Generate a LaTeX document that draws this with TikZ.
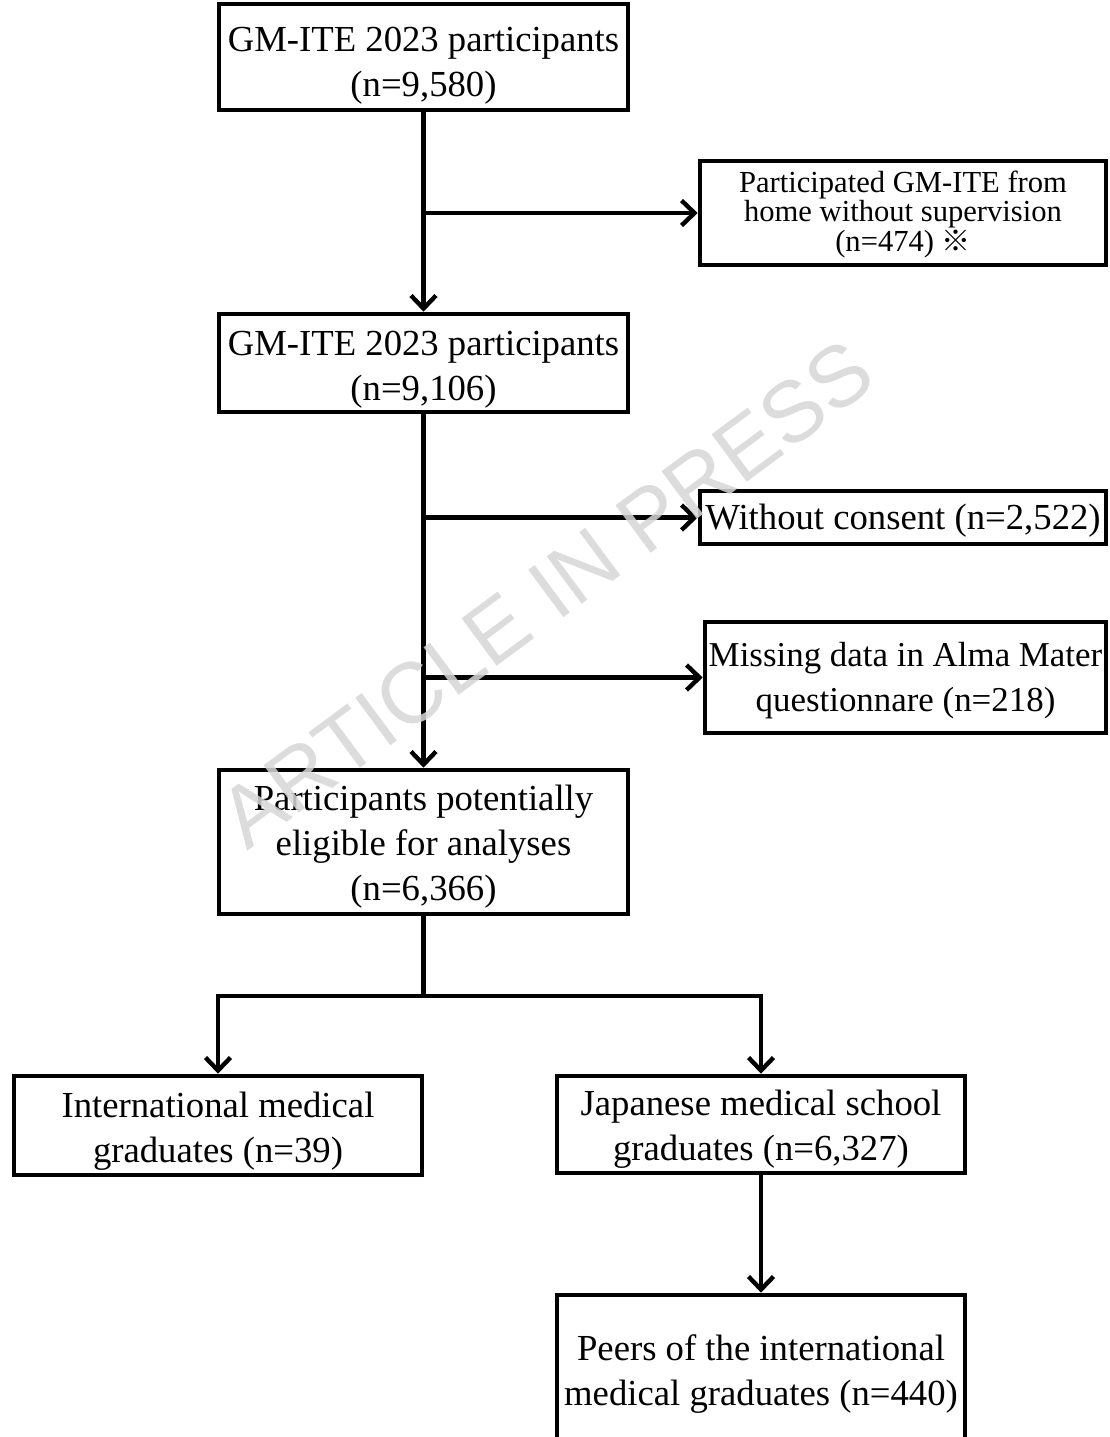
\documentclass[tikz,border=0pt]{standalone}
\usepackage{fontspec}
\setmainfont{Liberation Serif}
\newfontfamily\wmfont{Liberation Sans}
\newfontfamily\cjk{Noto Sans CJK JP}
\usetikzlibrary{arrows.meta}
\begin{document}
\begin{tikzpicture}[x=1pt,y=-1pt,
  frame/.style={draw=black,line width=4.6pt,inner sep=0pt},
  txt/.style={align=center,inner sep=0pt,font=\fontsize{36.7}{45}\selectfont},
  smalltxt/.style={txt,font=\fontsize{30.6}{29.5}\selectfont},
  arr/.style={line width=4.4pt,-{Straight Barb[length=13pt,width=25pt]}},
  conn/.style={line width=4.4pt}]
\useasboundingbox (0,0) rectangle (1110,1437);
\clip (0,0) rectangle (1110,1437);
% frames
\node[frame,minimum width=409,minimum height=106] (b1) at (423.5,57) {};
\node[frame,minimum width=406,minimum height=104] (r1) at (903,213) {};
\node[frame,minimum width=409,minimum height=98] (b2) at (423.5,363) {};
\node[frame,minimum width=406,minimum height=53] (r2) at (903,517.5) {};
\node[frame,minimum width=401,minimum height=111] (r3) at (905.5,677.5) {};
\node[frame,minimum width=409,minimum height=144] (b3) at (423.5,842) {};
\node[frame,minimum width=408,minimum height=99] (b4) at (218,1125.5) {};
\node[frame,minimum width=408,minimum height=97] (b5) at (761,1124.5) {};
\node[frame,minimum width=408,minimum height=150] (b6) at (761,1370) {};
% texts
\node[txt] (t1) at ([yshift=-9pt]b1.center) {GM-ITE 2023 participants\\(n=9,580)};
\node[smalltxt] (tr1) at ([yshift=-1pt]r1.center)
  {Participated GM-ITE from\\home without supervision\\(n=474) {\cjk\fontsize{29}{29.5}\selectfont ※}};
\node[txt] (t2) at ([yshift=-7pt]b2.center) {GM-ITE 2023 participants\\(n=9,106)};
\node[txt] (tr2) at ([yshift=-3pt]r2.center) {Without consent (n=2,522)};
\node[txt,font=\fontsize{34.9}{45}\selectfont] (tr3) at ([yshift=-3pt]r3.center)
  {Missing data in Alma Mater\\questionnare (n=218)};
\node[txt] (t3) at ([yshift=-5pt]b3.center) {Participants potentially\\eligible for analyses\\(n=6,366)};
\node[txt] (t4) at ([yshift=-6pt]b4.center) {International medical\\graduates (n=39)};
\node[txt] (t5) at ([yshift=-5pt]b5.center) {Japanese medical school\\graduates (n=6,327)};
\node[txt] (t6) at ([yshift=-4pt]b6.center) {Peers of the international\\medical graduates (n=440)};
% connectors
\coordinate (split) at (423.5,996);
\draw[arr] (b1.south) -- (b2.north);
\draw[arr] (b1.south |- r1.west) -- (r1.west);
\draw[arr] (b2.south) -- (b3.north);
\draw[arr] (b2.south |- r2.west) -- (r2.west);
\draw[arr] (b2.south |- r3.west) -- (r3.west);
\draw[conn] (b3.south) -- (split);
\draw[arr] (split) -| (b4.north);
\draw[arr] (split) -| (b5.north);
\draw[arr] (b5.south) -- (b6.north);
\node[text=black!16,opacity=0.85,rotate=36.5,font=\wmfont\fontsize{86}{86}\selectfont] (wm) at (546,594) {ARTICLE IN PRESS};
\end{tikzpicture}
\end{document}
